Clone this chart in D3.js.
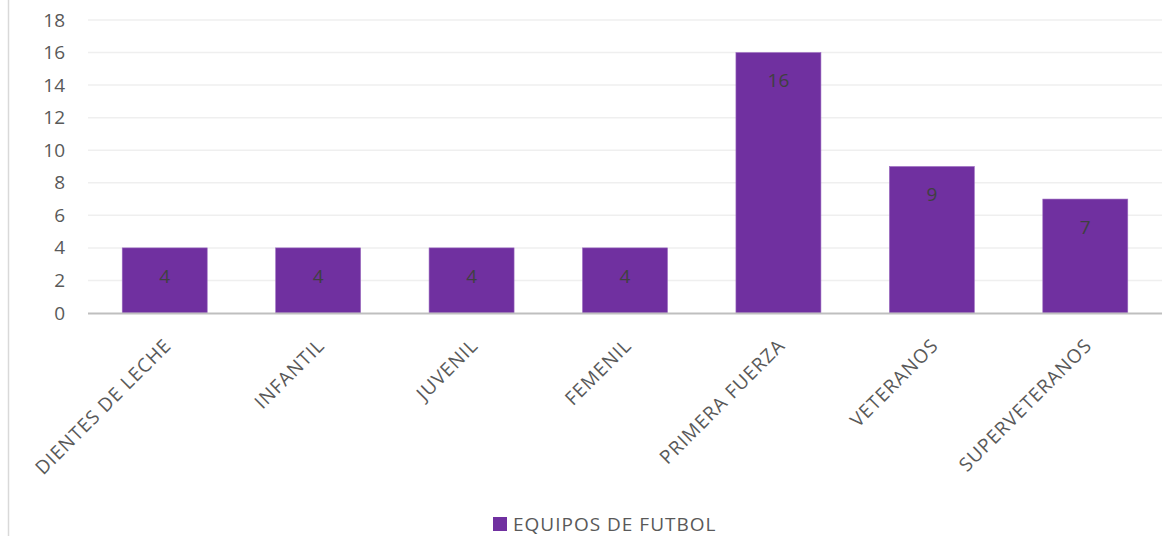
<!DOCTYPE html>
<html>
<head>
<meta charset="utf-8">
<script src="https://cdn.jsdelivr.net/npm/d3@7"></script>
<style>
  html, body { margin: 0; padding: 0; background: #fff; }
  svg { display: block; }
  text { font-family: "Open Sans", "Noto Sans", sans-serif; }
</style>
</head>
<body>
<svg id="chart" width="1169" height="536"></svg>
<script>
const categories = ["DIENTES DE LECHE", "INFANTIL", "JUVENIL", "FEMENIL", "PRIMERA FUERZA", "VETERANOS", "SUPERVETERANOS"];
const values = [4, 4, 4, 4, 16, 9, 7];
const seriesName = "EQUIPOS DE FUTBOL";
const yTicks = [0, 2, 4, 6, 8, 10, 12, 14, 16, 18];

const svg = d3.select("#chart");
const W = 1169, H = 536;
const mLeft = 88, mRight = 1162, mTop = 20, mBottom = 313;

// outer chart border (left edge visible)
svg.append("line")
  .attr("x1", 8.5).attr("x2", 8.5).attr("y1", 0).attr("y2", H)
  .attr("stroke", "#d9d9d9").attr("stroke-width", 1.5);

const x = d3.scaleBand().domain(categories).range([mLeft, mRight]).paddingInner(0.446).paddingOuter(0.223);
const y = d3.scaleLinear().domain([0, 18]).range([mBottom, mTop]);

// gridlines
svg.append("g").selectAll("line").data(yTicks.filter(d => d > 0)).join("line")
  .attr("x1", mLeft).attr("x2", mRight)
  .attr("y1", d => y(d)).attr("y2", d => y(d))
  .attr("stroke", "#efefef").attr("stroke-width", 1.5);

// y axis labels
const yAxis = d3.axisLeft(y).tickValues(yTicks).tickSize(0).tickPadding(0);
const gy = svg.append("g").attr("transform", `translate(65,0)`).call(yAxis);
gy.select(".domain").remove();
gy.selectAll("text")
  .attr("font-family", "'Open Sans', sans-serif")
  .attr("font-size", 19).attr("fill", "#595959");

// bars
svg.append("g").selectAll("rect").data(values).join("rect")
  .attr("x", (d, i) => x(categories[i]))
  .attr("width", x.bandwidth())
  .attr("y", d => y(d))
  .attr("height", d => y(0) - y(d))
  .attr("fill", "#7030a0")
  .attr("stroke", "#9c6cc0").attr("stroke-width", 0.6);

// data labels
svg.append("g").selectAll("text").data(values).join("text")
  .attr("x", (d, i) => x(categories[i]) + x.bandwidth() / 2)
  .attr("y", d => y(d) + 28)
  .attr("dy", "0.35em")
  .attr("text-anchor", "middle")
  .attr("font-size", 19).attr("fill", "#404040")
  .text(d => d);

// x axis line
svg.append("line")
  .attr("x1", mLeft).attr("x2", mRight).attr("y1", mBottom + 0.5).attr("y2", mBottom + 0.5)
  .attr("stroke", "#bfbfbf").attr("stroke-width", 2.2);

// x axis labels
const xAxis = d3.axisBottom(x).tickSize(0).tickPadding(0);
const gx = svg.append("g").attr("transform", `translate(0,${mBottom})`).call(xAxis);
gx.select(".domain").remove();
gx.selectAll(".tick text")
  .attr("font-family", "'Open Sans', sans-serif")
  .attr("font-size", 19).attr("fill", "#595959")
  .attr("letter-spacing", "1px")
  .attr("text-anchor", "end")
  .attr("y", 0).attr("dy", "0.35em")
  .attr("transform", "translate(3,29) rotate(-45)");

// legend
const lg = svg.append("g");
lg.append("rect").attr("x", 493).attr("y", 517).attr("width", 14).attr("height", 14).attr("fill", "#7030a0");
lg.append("text").attr("x", 513).attr("y", 531)
  .attr("font-size", 19).attr("letter-spacing", "1px").attr("fill", "#595959").text(seriesName);
</script>
</body>
</html>
